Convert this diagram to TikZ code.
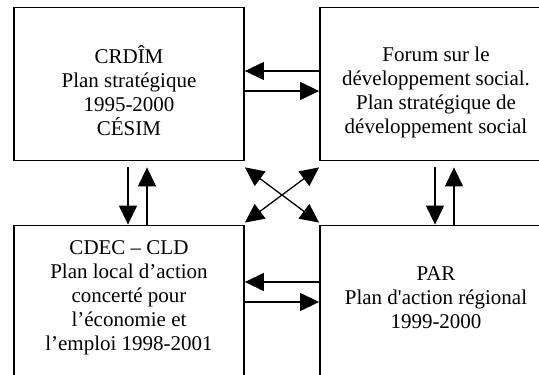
\documentclass[tikz,border=0pt]{standalone}
\usepackage{fontspec}
\setmainfont{Liberation Serif}[Ligatures=TeXOff]
\usetikzlibrary{arrows.meta,calc}
\begin{document}
\begin{tikzpicture}[x=1pt,y=-1pt,
  box/.style={draw,line width=1.8pt,minimum width=230pt,minimum height=153pt,inner sep=0pt},
  txt/.style={align=center,font=\fontsize{21}{24}\selectfont,inner sep=0pt},
  arr/.style={line width=1.3pt,-{Triangle[length=19pt,width=18pt]}},
  darr/.style={line width=1.3pt,{Triangle[length=19pt,width=18pt]}-{Triangle[length=19pt,width=18pt]}}]
\useasboundingbox (0,0) rectangle (539,375);
\clip (0,0) rectangle (539,375);
\node[box] (TL) at (129,84) {};
\node[box] (TR) at (435,84) {};
\node[box] (BL) at (129,302) {};
\node[box] (BR) at (435,302) {};
\node[txt] (tTL) at (129,91) {CRDÎM\\Plan stratégique\\1995-2000\\CÉSIM};
\node[txt] (tTR) at (436,92) {Forum sur le\\développement social.\\Plan stratégique de\\développement social};
\node[txt] (tBL) at (129,298) {CDEC – CLD\\Plan local d’action\\concerté pour\\l’économie et\\l’emploi 1998-2001};
\node[txt] (tBR) at (436,298) {PAR\\Plan d'action régional\\1999-2000};
% horizontal arrows
\draw[arr] ([yshift=13pt]TR.west) -- ([yshift=13pt]TL.east);
\draw[arr] ([yshift=-7pt]TL.east) -- ([yshift=-7pt]TR.west);
\draw[arr] ([yshift=20pt]BR.west) -- ([yshift=20pt]BL.east);
\draw[arr] ([yshift=0pt]BL.east) -- ([yshift=0pt]BR.west);
% vertical arrows
\draw[arr] ([xshift=-1pt,yshift=-6pt]TL.south) -- ([xshift=-1pt]BL.north);
\draw[arr] ([xshift=18pt]BL.north) -- ([xshift=18pt,yshift=-6pt]TL.south);
\draw[arr] ([xshift=0pt,yshift=-6pt]TR.south) -- ([xshift=0pt]BR.north);
\draw[arr] ([xshift=19pt]BR.north) -- ([xshift=19pt,yshift=-6pt]TR.south);
% diagonals
\draw[darr] ([yshift=-6pt]TL.south east) -- ([yshift=2pt]BR.north west);
\draw[darr] ([yshift=2pt]BL.north east) -- ([yshift=-6pt]TR.south west);
\end{tikzpicture}
\end{document}
